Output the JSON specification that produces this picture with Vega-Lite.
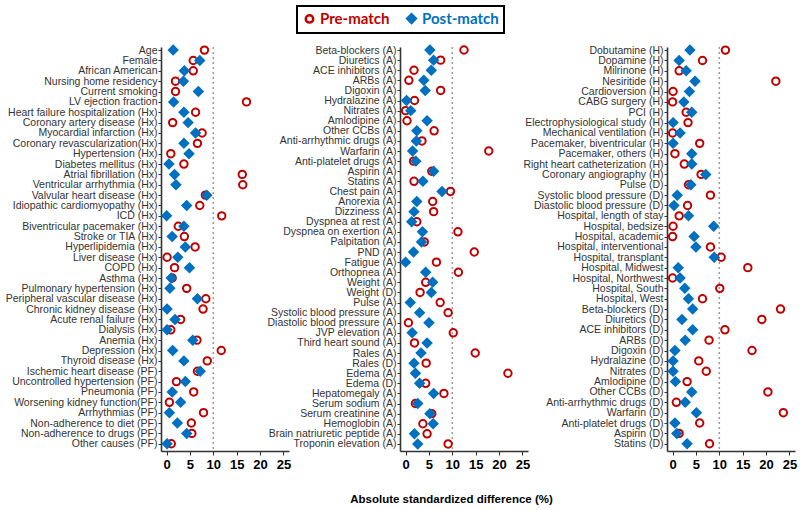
{
  "$schema": "https://vega.github.io/schema/vega-lite/v6.json",
  "padding": 5,
  "background": "white",
  "config": {
    "view": {"stroke": null},
    "font": "Liberation Sans",
    "legend": {"strokeColor": "#000000", "strokeWidth": 2, "padding": 5, "layout": {"top": {"anchor": "middle"}}},
    "axisY": {"title": null, "grid": false, "labelFont": "Liberation Sans", "labelFontSize": 10.5, "labelColor": "#333333", "labelPadding": 1, "labelLimit": 400, "tickSize": 3, "tickColor": "#333333", "domainColor": "#333333", "domainWidth": 1.6},
    "axisX": {"grid": false, "values": [0, 5, 10, 15, 20, 25], "labelFont": "Liberation Sans", "labelFontSize": 13, "labelFontWeight": "bold", "labelColor": "#000000", "labelPadding": 3, "tickSize": 4, "tickColor": "#333333", "domainColor": "#333333", "domainWidth": 1.6, "titleFont": "Liberation Sans", "titleFontSize": 11.5, "titleFontWeight": "bold", "titleColor": "#000000", "titlePadding": 22}
  },
  "datasets": {
    "p1": [
      {"label": "Age", "Pre-match": 8.1, "Post-match": 1.4},
      {"label": "Female", "Pre-match": 5.7, "Post-match": 7.1},
      {"label": "African American", "Pre-match": 5.7, "Post-match": 3.8},
      {"label": "Nursing home residency", "Pre-match": 1.9, "Post-match": 3.6},
      {"label": "Current smoking", "Pre-match": 1.9, "Post-match": 6.8},
      {"label": "LV ejection fraction", "Pre-match": 17.1, "Post-match": 1.5},
      {"label": "Heart failure hospitalization (Hx)", "Pre-match": 6.2, "Post-match": 3.7},
      {"label": "Coronary artery disease (Hx)", "Pre-match": 1.3, "Post-match": 4.6},
      {"label": "Myocardial infarction (Hx)", "Pre-match": 7.6, "Post-match": 6.2},
      {"label": "Coronary revascularization(Hx)", "Pre-match": 6.6, "Post-match": 3.7},
      {"label": "Hypertension (Hx)", "Pre-match": 0.9, "Post-match": 4.8},
      {"label": "Diabetes mellitus (Hx)", "Pre-match": 3.7, "Post-match": 0.5},
      {"label": "Atrial fibrillation (Hx)", "Pre-match": 16.2, "Post-match": 1.7},
      {"label": "Ventricular arrhythmia (Hx)", "Pre-match": 16.3, "Post-match": 2.0},
      {"label": "Valvular heart disease (Hx)", "Pre-match": 8.3, "Post-match": 8.6},
      {"label": "Idiopathic cardiomyopathy (Hx)", "Pre-match": 7.1, "Post-match": 4.3},
      {"label": "ICD (Hx)", "Pre-match": 11.8, "Post-match": 0.0},
      {"label": "Biventricular pacemaker (Hx)", "Pre-match": 2.5, "Post-match": 3.7},
      {"label": "Stroke or TIA (Hx)", "Pre-match": 3.8, "Post-match": 1.2},
      {"label": "Hyperlipidemia (Hx)", "Pre-match": 6.1, "Post-match": 4.0},
      {"label": "Liver disease (Hx)", "Pre-match": 0.1, "Post-match": 2.4},
      {"label": "COPD (Hx)", "Pre-match": 1.7, "Post-match": 4.9},
      {"label": "Asthma (Hx)", "Pre-match": 1.2, "Post-match": 1.0},
      {"label": "Pulmonary hypertension (Hx)", "Pre-match": 4.3, "Post-match": 0.7},
      {"label": "Peripheral vascular disease (Hx)", "Pre-match": 8.4, "Post-match": 6.6},
      {"label": "Chronic kidney disease (Hx)", "Pre-match": 7.8, "Post-match": 0.1},
      {"label": "Acute renal failure (Hx)", "Pre-match": 3.0, "Post-match": 1.8},
      {"label": "Dialysis (Hx)", "Pre-match": 0.9, "Post-match": 0.1},
      {"label": "Anemia (Hx)", "Pre-match": 6.5, "Post-match": 5.6},
      {"label": "Depression (Hx)", "Pre-match": 11.7, "Post-match": 1.3},
      {"label": "Thyroid disease (Hx)", "Pre-match": 8.7, "Post-match": 3.7},
      {"label": "Ischemic heart disease (PF)", "Pre-match": 6.6, "Post-match": 7.2},
      {"label": "Uncontrolled hypertension (PF)", "Pre-match": 2.1, "Post-match": 4.0},
      {"label": "Pneumonia (PF)", "Pre-match": 5.8, "Post-match": 1.2},
      {"label": "Worsening kidney function(PF)", "Pre-match": 0.6, "Post-match": 3.0},
      {"label": "Arrhythmias (PF)", "Pre-match": 7.9, "Post-match": 0.6},
      {"label": "Non-adherence to diet (PF)", "Pre-match": 5.3, "Post-match": 2.3},
      {"label": "Non-adherence to drugs (PF)", "Pre-match": 5.4, "Post-match": 4.3},
      {"label": "Other causes (PF)", "Pre-match": 1.0, "Post-match": 0.1}
    ],
    "p2": [
      {"label": "Beta-blockers (A)", "Pre-match": 12.5, "Post-match": 5.2},
      {"label": "Diuretics (A)", "Pre-match": 7.5, "Post-match": 6.0},
      {"label": "ACE inhibitors (A)", "Pre-match": 1.8, "Post-match": 5.5},
      {"label": "ARBs (A)", "Pre-match": 0.7, "Post-match": 3.9},
      {"label": "Digoxin (A)", "Pre-match": 7.5, "Post-match": 4.2},
      {"label": "Hydralazine (A)", "Pre-match": 1.9, "Post-match": 0.2},
      {"label": "Nitrates (A)", "Pre-match": 0.0, "Post-match": 1.1},
      {"label": "Amlodipine (A)", "Pre-match": 0.3, "Post-match": 4.6},
      {"label": "Other CCBs (A)", "Pre-match": 6.1, "Post-match": 2.4},
      {"label": "Anti-arrhythmic drugs (A)", "Pre-match": 3.5, "Post-match": 2.3},
      {"label": "Warfarin (A)", "Pre-match": 17.8, "Post-match": 1.5},
      {"label": "Anti-platelet drugs (A)", "Pre-match": 1.7, "Post-match": 2.2},
      {"label": "Aspirin (A)", "Pre-match": 5.6, "Post-match": 6.0},
      {"label": "Statins (A)", "Pre-match": 1.8, "Post-match": 3.7},
      {"label": "Chest pain (A)", "Pre-match": 9.6, "Post-match": 7.8},
      {"label": "Anorexia (A)", "Pre-match": 5.8, "Post-match": 2.4},
      {"label": "Dizziness (A)", "Pre-match": 6.0, "Post-match": 1.8},
      {"label": "Dyspnea at rest (A)", "Pre-match": 2.4, "Post-match": 1.3},
      {"label": "Dyspnea on exertion (A)", "Pre-match": 11.2, "Post-match": 3.6},
      {"label": "Palpitation (A)", "Pre-match": 4.0, "Post-match": 3.4},
      {"label": "PND (A)", "Pre-match": 14.7, "Post-match": 1.7},
      {"label": "Fatigue (A)", "Pre-match": 6.6, "Post-match": 0.0},
      {"label": "Orthopnea (A)", "Pre-match": 11.3, "Post-match": 4.3},
      {"label": "Weight (A)", "Pre-match": 4.3, "Post-match": 5.8},
      {"label": "Weight (D)", "Pre-match": 3.1, "Post-match": 5.5},
      {"label": "Pulse (A)", "Pre-match": 7.4, "Post-match": 1.0},
      {"label": "Systolic blood pressure (A)", "Pre-match": 9.1, "Post-match": 3.0},
      {"label": "Diastolic blood pressure (A)", "Pre-match": 0.6, "Post-match": 5.0},
      {"label": "JVP elevation (A)", "Pre-match": 10.2, "Post-match": 1.4},
      {"label": "Third heart sound (A)", "Pre-match": 1.9, "Post-match": 4.6},
      {"label": "Rales (A)", "Pre-match": 14.9, "Post-match": 3.3},
      {"label": "Rales (D)", "Pre-match": 4.4, "Post-match": 1.8},
      {"label": "Edema (A)", "Pre-match": 21.9, "Post-match": 2.1},
      {"label": "Edema (D)", "Pre-match": 4.3, "Post-match": 3.0},
      {"label": "Hepatomegaly (A)", "Pre-match": 8.2, "Post-match": 6.0},
      {"label": "Serum sodium (A)", "Pre-match": 2.1, "Post-match": 2.6},
      {"label": "Serum creatinine (A)", "Pre-match": 5.6, "Post-match": 5.2},
      {"label": "Hemoglobin (A)", "Pre-match": 3.7, "Post-match": 5.9},
      {"label": "Brain natriuretic peptide (A)", "Pre-match": 4.6, "Post-match": 1.9},
      {"label": "Troponin elevation (A)", "Pre-match": 9.1, "Post-match": 2.6}
    ],
    "p3": [
      {"label": "Dobutamine (H)", "Pre-match": 11.3, "Post-match": 3.7},
      {"label": "Dopamine (H)", "Pre-match": 6.4, "Post-match": 1.4},
      {"label": "Milrinone (H)", "Pre-match": 1.4, "Post-match": 2.9},
      {"label": "Nesiritide (H)", "Pre-match": 22.1, "Post-match": 4.8},
      {"label": "Cardioversion (H)", "Pre-match": 0.1, "Post-match": 3.6},
      {"label": "CABG surgery (H)", "Pre-match": 0.0, "Post-match": 2.4},
      {"label": "PCI (H)", "Pre-match": 2.9, "Post-match": 4.1},
      {"label": "Electrophysiological study (H)", "Pre-match": 3.3, "Post-match": 0.1},
      {"label": "Mechanical ventilation (H)", "Pre-match": 0.0, "Post-match": 1.6},
      {"label": "Pacemaker, biventricular (H)", "Pre-match": 5.8, "Post-match": 0.1},
      {"label": "Pacemaker, others (H)", "Pre-match": 0.5, "Post-match": 4.1},
      {"label": "Right heart catheterization (H)", "Pre-match": 2.5, "Post-match": 4.1},
      {"label": "Coronary angiography (H)", "Pre-match": 6.1, "Post-match": 7.1},
      {"label": "Pulse (D)", "Pre-match": 3.4, "Post-match": 3.9},
      {"label": "Systolic blood pressure (D)", "Pre-match": 8.1, "Post-match": 1.0},
      {"label": "Diastolic blood pressure (D)", "Pre-match": 3.2, "Post-match": 0.3},
      {"label": "Hospital, length of stay", "Pre-match": 1.4, "Post-match": 3.4},
      {"label": "Hospital, bedsize", "Pre-match": 0.1, "Post-match": 8.8},
      {"label": "Hospital, academic", "Pre-match": 0.0, "Post-match": 4.6},
      {"label": "Hospital, interventional", "Pre-match": 8.1, "Post-match": 5.0},
      {"label": "Hospital, transplant", "Pre-match": 10.4, "Post-match": 8.9},
      {"label": "Hospital, Midwest", "Pre-match": 16.1, "Post-match": 1.2},
      {"label": "Hospital, Northwest", "Pre-match": 0.0, "Post-match": 1.6},
      {"label": "Hospital, South", "Pre-match": 10.1, "Post-match": 2.6},
      {"label": "Hospital, West", "Pre-match": 6.4, "Post-match": 3.4},
      {"label": "Beta-blockers (D)", "Pre-match": 23.1, "Post-match": 4.3},
      {"label": "Diuretics (D)", "Pre-match": 19.1, "Post-match": 2.0},
      {"label": "ACE inhibitors (D)", "Pre-match": 11.2, "Post-match": 4.3},
      {"label": "ARBs (D)", "Pre-match": 7.8, "Post-match": 2.7},
      {"label": "Digoxin (D)", "Pre-match": 17.0, "Post-match": 0.5},
      {"label": "Hydralazine (D)", "Pre-match": 5.6, "Post-match": 0.1},
      {"label": "Nitrates (D)", "Pre-match": 7.2, "Post-match": 0.1},
      {"label": "Amlodipine (D)", "Pre-match": 3.1, "Post-match": 0.6},
      {"label": "Other CCBs (D)", "Pre-match": 20.4, "Post-match": 4.1},
      {"label": "Anti-arrhythmic drugs (D)", "Pre-match": 0.8, "Post-match": 2.7},
      {"label": "Warfarin (D)", "Pre-match": 23.7, "Post-match": 5.1},
      {"label": "Anti-platelet drugs (D)", "Pre-match": 5.8, "Post-match": 0.5},
      {"label": "Aspirin (D)", "Pre-match": 1.4, "Post-match": 0.9},
      {"label": "Statins (D)", "Pre-match": 7.9, "Post-match": 3.1}
    ]
  },
  "hconcat": [
    {
      "width": 128, "height": 404,
      "data": {"name": "p1"},
      "layer": [
        {"data": {"values": [{}]}, "mark": {"type": "rule", "color": "#9a9a9a", "strokeDash": [2, 3], "strokeWidth": 1.5}, "encoding": {"x": {"datum": 10, "type": "quantitative"}}},
        {
          "transform": [{"fold": ["Pre-match", "Post-match"], "as": ["series", "value"]}],
          "mark": {"type": "point", "opacity": 1, "strokeWidth": 2},
          "encoding": {
            "y": {"field": "label", "type": "nominal", "sort": null, "scale": {"type": "point", "paddingOuter": 2, "align": 0.3}},
            "x": {"field": "value", "type": "quantitative", "scale": {"domain": [-1.2, 26.2], "nice": false, "zero": false}, "axis": {"title": null}},
            "stroke": {"field": "series", "type": "nominal", "scale": {"domain": ["Pre-match", "Post-match"], "range": ["#C00000", "#0070C0"]}, "legend": {"orient": "top", "offset": 8, "direction": "horizontal", "title": null, "strokeColor": "#000000", "padding": 5, "columnPadding": 12, "labelFont": "Lato", "labelFontSize": 15, "labelFontWeight": "bold", "labelColor": {"expr": "datum.label == 'Pre-match' ? '#C00000' : '#0070C0'"}, "symbolStrokeWidth": 2.5, "labelOffset": 3}},
            "fill": {"field": "series", "type": "nominal", "scale": {"domain": ["Pre-match", "Post-match"], "range": ["transparent", "#0070C0"]}},
            "shape": {"field": "series", "type": "nominal", "scale": {"domain": ["Pre-match", "Post-match"], "range": ["circle", "diamond"]}},
            "size": {"field": "series", "type": "nominal", "scale": {"domain": ["Pre-match", "Post-match"], "range": [55, 75]}},
            "order": {"field": "series", "sort": "descending"}
          }
        }
      ]
    },
    {
      "hconcat": [
        {
          "width": 128, "height": 404,
          "data": {"name": "p2"},
          "layer": [
            {"data": {"values": [{}]}, "mark": {"type": "rule", "color": "#9a9a9a", "strokeDash": [2, 3], "strokeWidth": 1.5}, "encoding": {"x": {"datum": 10, "type": "quantitative"}}},
            {
              "transform": [{"fold": ["Pre-match", "Post-match"], "as": ["series", "value"]}],
              "mark": {"type": "point", "opacity": 1, "strokeWidth": 2},
              "encoding": {
                "y": {"field": "label", "type": "nominal", "sort": null, "scale": {"type": "point", "paddingOuter": 2, "align": 0.3}},
                "x": {"field": "value", "type": "quantitative", "scale": {"domain": [-1.2, 26.2], "nice": false, "zero": false}, "axis": {"title": "Absolute  standardized difference (%)", "titleX": 51}},
                "stroke": {"field": "series", "type": "nominal", "scale": {"domain": ["Pre-match", "Post-match"], "range": ["#C00000", "#0070C0"]}},
                "fill": {"field": "series", "type": "nominal", "scale": {"domain": ["Pre-match", "Post-match"], "range": ["transparent", "#0070C0"]}},
                "shape": {"field": "series", "type": "nominal", "scale": {"domain": ["Pre-match", "Post-match"], "range": ["circle", "diamond"]}},
                "size": {"field": "series", "type": "nominal", "scale": {"domain": ["Pre-match", "Post-match"], "range": [55, 75]}},
                "order": {"field": "series", "sort": "descending"}
              }
            }
          ]
        },
        {
          "width": 128, "height": 404,
          "data": {"name": "p3"},
          "layer": [
            {"data": {"values": [{}]}, "mark": {"type": "rule", "color": "#9a9a9a", "strokeDash": [2, 3], "strokeWidth": 1.5}, "encoding": {"x": {"datum": 10, "type": "quantitative"}}},
            {
              "transform": [{"fold": ["Pre-match", "Post-match"], "as": ["series", "value"]}],
              "mark": {"type": "point", "opacity": 1, "strokeWidth": 2},
              "encoding": {
                "y": {"field": "label", "type": "nominal", "sort": null, "scale": {"type": "point", "paddingOuter": 2, "align": 0.3}},
                "x": {"field": "value", "type": "quantitative", "scale": {"domain": [-1.2, 26.2], "nice": false, "zero": false}, "axis": {"title": null}},
                "stroke": {"field": "series", "type": "nominal", "scale": {"domain": ["Pre-match", "Post-match"], "range": ["#C00000", "#0070C0"]}},
                "fill": {"field": "series", "type": "nominal", "scale": {"domain": ["Pre-match", "Post-match"], "range": ["transparent", "#0070C0"]}},
                "shape": {"field": "series", "type": "nominal", "scale": {"domain": ["Pre-match", "Post-match"], "range": ["circle", "diamond"]}},
                "size": {"field": "series", "type": "nominal", "scale": {"domain": ["Pre-match", "Post-match"], "range": [55, 75]}},
                "order": {"field": "series", "sort": "descending"}
              }
            }
          ]
        }
      ],
      "spacing": 139,
      "bounds": "flush"
    }
  ],
  "spacing": 111,
  "bounds": "flush"
}
